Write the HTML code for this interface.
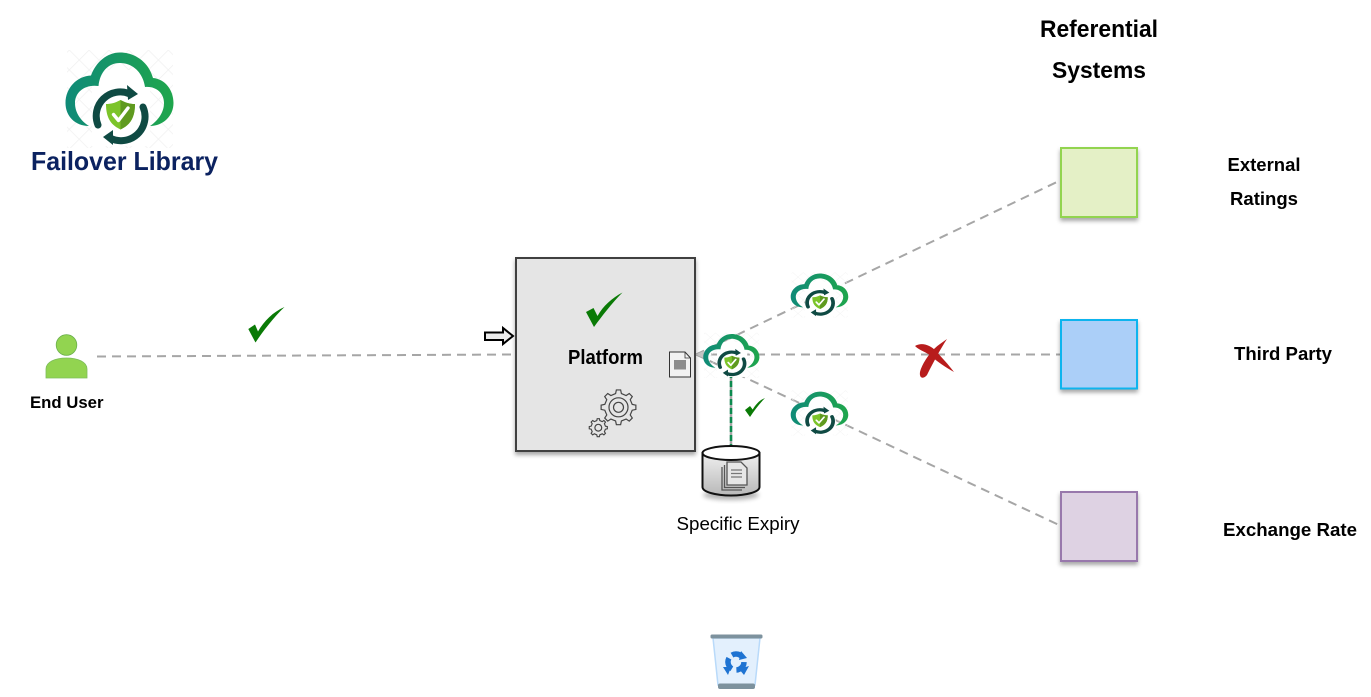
<!DOCTYPE html>
<html><head><meta charset="utf-8"><style>
html,body{margin:0;padding:0;background:#fff;width:1371px;height:697px;overflow:hidden}
svg{display:block}
text{font-family:"Liberation Sans",sans-serif;fill:#000}
.b{font-weight:bold}
</style></head><body>
<svg width="1371" height="697" viewBox="0 0 1371 697" xmlns="http://www.w3.org/2000/svg">
<defs>
<linearGradient id="cg" gradientUnits="userSpaceOnUse" x1="65" y1="0" x2="174" y2="0"><stop offset="0" stop-color="#0f8a78"/><stop offset="1" stop-color="#1fa64c"/></linearGradient>
<linearGradient id="db" x1="0" y1="0" x2="0" y2="1"><stop offset="0" stop-color="#f0f0f0"/><stop offset="1" stop-color="#b8b8b8"/></linearGradient>
<filter id="s" x="-20%" y="-20%" width="140%" height="140%"><feDropShadow dx="0" dy="3" stdDeviation="2" flood-color="#000" flood-opacity=".35"/></filter>
<filter id="sb" x="-30%" y="-30%" width="160%" height="170%"><feGaussianBlur stdDeviation="2.500"/></filter>
<pattern id="h" width="14" height="14" patternUnits="userSpaceOnUse" patternTransform="rotate(45)"><path d="M0 0H14M0 0V14" stroke="#f1f1f1" stroke-width="1.600" fill="none"/></pattern>
<path id="gear" d="M13.69 -2.91L17.37 -2.13 17.37 2.13 13.69 2.91 11.74 7.62 13.79 10.77 10.77 13.79 7.62 11.74 2.91 13.69 2.13 17.37 -2.13 17.37 -2.91 13.69 -7.62 11.74 -10.77 13.79 -13.79 10.77 -11.74 7.62 -13.69 2.91 -17.37 2.13 -17.37 -2.13 -13.69 -2.91 -11.74 -7.62 -13.79 -10.77 -10.77 -13.79 -7.62 -11.74 -2.91 -13.69 -2.13 -17.37 2.13 -17.37 2.91 -13.69 7.62 -11.74 10.77 -13.79 13.79 -10.77 11.74 -7.62Z"/>
<g id="logo">
<rect x="67" y="50" width="106" height="98" fill="url(#h)"/>
<rect x="92" y="70" width="58" height="76" fill="#fff"/>
<path d="M89 126C75 126 65.500 116 65.500 103C65.500 88 77 76 91 75.500C96 62 107 52.500 120 52.500C136 52.500 149 63 153 78C165 79 173.500 90 173.500 103C173.500 116 163 126 150 126C156 122 164 114 164 103C164 93 156 86 145 87C143 73 133 63 120 63C108 63 100 72 98.500 86C85 84 75 92 75 103C75 113 81 121 89 126Z" fill="url(#cg)"/>
<g fill="none" stroke="#0f4a43" stroke-width="7" stroke-linecap="round">
<path d="M98 125A24 24 0 0 1 130 94"/>
<path d="M143 107A24 24 0 0 1 110 138"/>
</g>
<path d="M127 85L138 94L128 100Z" fill="#0f4a43"/>
<path d="M113 130L103 137L113 145Z" fill="#0f4a43"/>
<path d="M120.500 100C126 103 130 104 135 104C135 118 130 125 120.500 129.500C111 125 106 118 106 104C111 104 115 103 120.500 100Z" fill="#7cc42a"/>
<path d="M120.500 100C126 103 130 104 135 104C135 118 130 125 120.500 129.500Z" fill="#5f9a1f"/>
<path d="M113.500 114.500L118.500 120.500L128 108" fill="none" stroke="#fff" stroke-width="3.400" stroke-linecap="round" stroke-linejoin="round"/>
</g>
</defs>

<!-- connectors -->
<g fill="none" stroke="#a6a6a6" stroke-width="2" stroke-dasharray="9 6">
<path d="M97 356.500L515 354.500"/>
<path d="M696 354.500L1059 181"/>
<path d="M696 354.500L1061 354.500"/>
<path d="M696 354.500L1059 525"/>
</g>
<path d="M695 354.500L704 351V358Z" fill="#c4c4c4"/>

<!-- top-left logo -->
<use href="#logo"/>
<text x="31" y="170" class="b" font-size="26" style="fill:#0b2260" textLength="187" lengthAdjust="spacingAndGlyphs">Failover Library</text>

<!-- end user -->
<circle cx="66.500" cy="345" r="10.300" fill="#92d450" stroke="#6bb04b" stroke-width=".8"/>
<path d="M46 378V369C46 362 55 358 66.500 358C78 358 87 362 87 369V378Z" fill="#92d450" stroke="#7dbd5b" stroke-width=".8"/>
<text x="30" y="408" class="b" font-size="16.500" textLength="73.500" lengthAdjust="spacingAndGlyphs">End User</text>

<!-- check 1 -->
<path d="M248.300 329L255 324.500L258 331.500C264 321 273 312 284.500 307C274 317 263 331 255.500 342.500Z" fill="#0a7a06"/>

<!-- platform -->
<rect x="516" y="258" width="179" height="193" fill="#e5e5e5" stroke="#3f3f3f" stroke-width="2" filter="url(#s)"/>
<path d="M485 332.500H503V328L513 336L503 344V340H485Z" fill="#ececec" stroke="#000" stroke-width="2"/>
<path d="M586 312L593.500 308L597.500 316C603 306 612 298 622.500 292.500C612 303 602 316 594 327Z" fill="#0a7a06"/>
<text x="568" y="364" class="b" font-size="20" textLength="75" lengthAdjust="spacingAndGlyphs">Platform</text>
<!-- gears -->
<g fill="none" stroke="#454545" stroke-width="1.200">
<use href="#gear" transform="translate(618.500 407.300)"/>
<circle cx="618.500" cy="407.300" r="9.500"/>
<circle cx="618.500" cy="407.300" r="5"/>
<use href="#gear" transform="translate(598.300 427.700) scale(.52)" stroke-width="2.200"/>
<circle cx="598.300" cy="427.700" r="3.400"/>
</g>
<!-- file port -->
<path d="M669.500 352H685L690.500 358V377H669.500Z" fill="#f2f2f2" stroke="#333" stroke-width="1"/>
<path d="M685 352V358H690.500" fill="none" stroke="#333" stroke-width=".8"/>
<rect x="674" y="360" width="12" height="9.500" fill="#8c8c8c"/>

<!-- vertical connector -->
<path d="M731 372V446" stroke="#a6a6a6" stroke-width="2.500"/>
<path d="M731 372V446" stroke="#0c8a4e" stroke-width="2.500" stroke-dasharray="6 3"/>

<!-- small logos -->
<use href="#logo" transform="translate(669.200 309.800) scale(.52 .46)"/>
<use href="#logo" transform="translate(755.800 249.400) scale(.533 .46)"/>
<use href="#logo" transform="translate(755.800 367.500) scale(.533 .46)"/>

<!-- small check -->
<path d="M745 410L750 406L752.700 409.500C756 404 760 400 765 398C759 404 754 411 750 417Z" fill="#0a7a06"/>

<!-- red X -->
<path d="M915 346C922 342 930 345 936 351C942 358 948 364 954 372C945 367 938 362 932 357C927 352 920 351 915 346Z" fill="#b81c1c"/>
<path d="M947 339C941 348 934 361 927 375C924 379 919 379 920 372C922 364 929 354 934 349C938 345 943 342 947 339Z" fill="#b81c1c"/>

<!-- database -->
<ellipse cx="731" cy="495" rx="28" ry="5" fill="#000" opacity=".3" filter="url(#sb)"/>
<path d="M702.500 453V487C702.500 492 716 495.500 731 495.500C746 495.500 759.500 492 759.500 487V453Z" fill="url(#db)" stroke="#111" stroke-width="2"/>
<ellipse cx="731" cy="453" rx="28.500" ry="7" fill="#fff" stroke="#111" stroke-width="2"/>
<g stroke="#555" stroke-width="1.300">
<path d="M722 467V490H742" fill="none"/>
<path d="M724.500 465V487.500H745" fill="none"/>
<path d="M727 462H741L747 468V485H727Z" fill="#e6e6e6"/>
<path d="M731 470H742M731 473.500H742M731 477H742" fill="none" stroke="#777"/>
</g>
<text x="676.500" y="530" font-size="18.800" textLength="123" lengthAdjust="spacingAndGlyphs">Specific Expiry</text>

<!-- referential -->
<text x="1040" y="37" class="b" font-size="24" textLength="118" lengthAdjust="spacingAndGlyphs">Referential</text>
<text x="1052" y="78" class="b" font-size="23" textLength="94" lengthAdjust="spacingAndGlyphs">Systems</text>

<rect x="1061" y="148" width="76" height="69" fill="#e4f0c6" stroke="#92d450" stroke-width="2" filter="url(#s)"/>
<rect x="1061" y="320" width="76" height="68.500" fill="#abcff8" stroke="#0cb4ee" stroke-width="2" filter="url(#s)"/>
<rect x="1061" y="492" width="76" height="69" fill="#ded2e3" stroke="#9878ac" stroke-width="2" filter="url(#s)"/>

<text x="1227.500" y="171" class="b" font-size="18.500" textLength="73" lengthAdjust="spacingAndGlyphs">External</text>
<text x="1230" y="205" class="b" font-size="18.500" textLength="68" lengthAdjust="spacingAndGlyphs">Ratings</text>
<text x="1234" y="360" class="b" font-size="18.600" textLength="98" lengthAdjust="spacingAndGlyphs">Third Party</text>
<text x="1223" y="536" class="b" font-size="18.700" textLength="134" lengthAdjust="spacingAndGlyphs">Exchange Rate</text>

<!-- recycle bin -->
<path d="M713 638H760L755 685H718Z" fill="#e3f0fd" stroke="#b9dafa" stroke-width="1.500"/>
<rect x="710.500" y="634.500" width="52" height="4" rx="1.500" fill="#7d929e"/>
<rect x="718" y="683.500" width="37" height="5.500" rx="2" fill="#7d929e"/>
<circle cx="736" cy="662" r="8" fill="none" stroke="#1e73d2" stroke-width="5.500" stroke-dasharray="12 4.750" transform="rotate(-120 736 662)"/>
<path d="M741 651L747 658L739 660Z" fill="#1e73d2"/>
<path d="M749 666L744 675L739 669Z" fill="#1e73d2"/>
<path d="M723 667L731 667L728 675Z" fill="#1e73d2"/>
</svg>
</body></html>
